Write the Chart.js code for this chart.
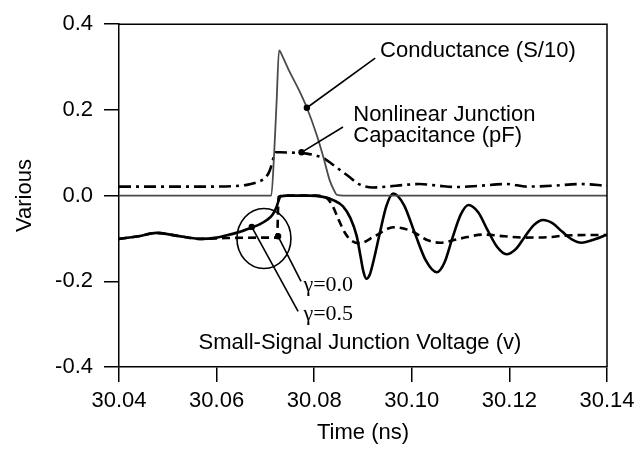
<!DOCTYPE html>
<html><head><meta charset="utf-8">
<script src="https://cdn.jsdelivr.net/npm/chart.js@4.4.0/dist/chart.umd.min.js"></script>
<style>html,body{margin:0;padding:0;background:#fff}</style>
</head><body>
<canvas id="c" width="642" height="449"></canvas>
<script>
// ---- data (time in ns, values "Various") ----
const condT = [30.040,30.0712,30.0718,30.0723,30.0728,30.0735,30.0750,30.0768,30.0785,30.0805,30.0819,30.0832,30.0840,30.0846,30.0860,30.1400];
const condV = [0.000, 0.000, 0.100, 0.220, 0.339, 0.325, 0.288, 0.248, 0.205, 0.142, 0.089, 0.035, 0.014, 0.002, 0.000, 0.000];

const capT = [30.040,30.050,30.058,30.063,30.0662,30.0685,30.0700,30.0708,30.0713,30.0717,30.0721,30.0730,30.0760,30.0785,30.0802,30.0818,30.0835,30.0855,30.0873,30.0887,30.0900,30.0920,30.0950,30.0985,30.1015,30.1055,30.1095,30.1140,30.1195,30.1236,30.1290,30.1345,30.1400];
const capV = [0.021,0.021,0.021,0.022,0.025,0.032,0.042,0.056,0.073,0.090,0.101,0.101,0.100,0.098,0.094,0.088,0.075,0.058,0.043,0.030,0.023,0.019,0.021,0.025,0.027,0.023,0.020,0.023,0.027,0.021,0.023,0.027,0.023];

// small-signal junction voltage, gamma = 0.5 (solid)
const v05T = [30.0400,30.0440,30.0477,30.0520,30.0566,30.0600,30.0627,30.0650,30.0668,30.0688,30.0703,30.0715,30.0723,30.0727,30.0731,30.0745,30.0790,30.0818,30.0840,30.0859,30.0874,30.0887,30.0895,30.0901,30.0907,30.0914,30.0921,30.0933,30.0948,30.0962,30.0984,30.1006,30.1029,30.1051,30.1067,30.1083,30.1100,30.1116,30.1136,30.1155,30.1175,30.1194,30.1213,30.1231,30.1250,30.1269,30.1289,30.1308,30.1328,30.1348,30.1375,30.1400];
const v05V = [-0.101,-0.095,-0.087,-0.094,-0.101,-0.098,-0.091,-0.084,-0.076,-0.067,-0.057,-0.044,-0.026,-0.012,-0.002,0.000,0.000,-0.003,-0.011,-0.025,-0.052,-0.094,-0.142,-0.178,-0.194,-0.184,-0.155,-0.095,-0.024,0.005,-0.022,-0.087,-0.152,-0.179,-0.156,-0.100,-0.045,-0.022,-0.039,-0.080,-0.120,-0.137,-0.125,-0.097,-0.069,-0.057,-0.065,-0.084,-0.102,-0.110,-0.102,-0.091];

// small-signal junction voltage, gamma = 0.0 (dashed)
const v00T = [30.0400,30.0440,30.0477,30.0520,30.0566,30.0620,30.0700,30.0724,30.0727,30.0740,30.0800,30.0825,30.0838,30.0850,30.0862,30.0875,30.0893,30.0925,30.0962,30.1000,30.1030,30.1058,30.1100,30.1147,30.1190,30.1229,30.1280,30.1317,30.1360,30.1400];
const v00V = [-0.101,-0.095,-0.087,-0.094,-0.101,-0.099,-0.098,-0.098,-0.003,0.000,0.000,-0.005,-0.025,-0.056,-0.085,-0.104,-0.111,-0.094,-0.074,-0.083,-0.103,-0.110,-0.100,-0.091,-0.095,-0.098,-0.097,-0.093,-0.092,-0.092];

const xTicks = [30.04,30.06,30.08,30.10,30.12,30.14];
const xTickLabels = ['30.04','30.06','30.08','30.10','30.12','30.14'];
const yTicks = [-0.4,-0.2,0.0,0.2,0.4];
const yTickLabels = ['-0.4','-0.2','0.0','0.2','0.4'];

// annotations in data coordinates [time, value]
const condLabel = {text:'Conductance (S/10)', at:[30.0935,0.337], from:[30.0925,0.321], to:[30.0785,0.205]};
const capLabel = {lines:['Nonlinear Junction','Capacitance (pF)'], at:[30.0880,0.188], line2:[30.0880,0.140], from:[30.0859,0.160], to:[30.0774,0.101]};
const circleAt = [30.0697,-0.100];
const g00 = {text:'\u03b3=0.0', at:[30.0778,-0.208], from:[30.0726,-0.095], to:[30.0773,-0.200]};
const g05 = {text:'\u03b3=0.5', at:[30.0778,-0.277], from:[30.0672,-0.073], to:[30.0767,-0.270]};
const vLabel = {text:'Small-Signal Junction Voltage (v)', at:[30.0563,-0.343]};

const SANS = '"Liberation Sans", Arial, Helvetica, sans-serif';
const SERIF = '"Liberation Serif", "Times New Roman", serif';
const FS = 22;

const xy = (ts, vs) => ts.map((t, i) => ({x: t, y: vs[i]}));

const annot = {
  id: 'annot',
  afterDraw(chart) {
    const {ctx, scales: {x, y}, chartArea: a} = chart;
    const X = v => x.getPixelForValue(v), Y = v => y.getPixelForValue(v);
    ctx.save();
    ctx.strokeStyle = '#000'; ctx.fillStyle = '#000';
    ctx.lineWidth = 1.5;
    // top and right frame
    ctx.beginPath();
    ctx.moveTo(a.left, a.top); ctx.lineTo(a.right, a.top); ctx.lineTo(a.right, a.bottom);
    ctx.stroke();
    const seg = (p, q, dot) => {
      ctx.beginPath(); ctx.moveTo(X(p[0]), Y(p[1])); ctx.lineTo(X(q[0]), Y(q[1])); ctx.stroke();
      if (dot) { ctx.beginPath(); ctx.arc(X(q[0]), Y(q[1]), 3.2, 0, Math.PI * 2); ctx.fill(); }
    };
    const dotAt = (p) => { ctx.beginPath(); ctx.arc(X(p[0]), Y(p[1]), 3.2, 0, Math.PI * 2); ctx.fill(); };
    ctx.lineWidth = 1.6;
    seg(condLabel.from, condLabel.to, true);
    seg(capLabel.from, capLabel.to, true);
    seg(g00.from, g00.to, false); dotAt(g00.from);
    seg(g05.from, g05.to, false); dotAt(g05.from);
    ctx.beginPath();
    ctx.ellipse(X(circleAt[0]), Y(circleAt[1]), 27, 30, 0, 0, Math.PI * 2);
    ctx.stroke();
    ctx.textAlign = 'left'; ctx.textBaseline = 'middle';
    ctx.font = FS + 'px ' + SANS;
    ctx.fillText(condLabel.text, X(condLabel.at[0]), Y(condLabel.at[1]));
    ctx.fillText(capLabel.lines[0], X(capLabel.at[0]), Y(capLabel.at[1]));
    ctx.fillText(capLabel.lines[1], X(capLabel.line2[0]), Y(capLabel.line2[1]));
    ctx.fillText(vLabel.text, X(vLabel.at[0]), Y(vLabel.at[1]));
    ctx.font = '22px ' + SERIF;
    ctx.fillText(g00.text, X(g00.at[0]), Y(g00.at[1]));
    ctx.fillText(g05.text, X(g05.at[0]), Y(g05.at[1]));
    ctx.restore();
  }
};

new Chart(document.getElementById('c'), {
  type: 'line',
  data: {datasets: [
    {data: xy(condT, condV), borderColor: '#4a4a4a', borderWidth: 1.8, pointRadius: 0, cubicInterpolationMode: 'monotone'},
    {data: xy(capT, capV), borderColor: '#000', borderWidth: 2.6, borderDash: [12, 5, 3, 5], pointRadius: 0, cubicInterpolationMode: 'monotone'},
    {data: xy(v00T, v00V), borderColor: '#000', borderWidth: 2.6, borderDash: [8, 5], pointRadius: 0, cubicInterpolationMode: 'monotone'},
    {data: xy(v05T, v05V), borderColor: '#000', borderWidth: 2.6, pointRadius: 0, cubicInterpolationMode: 'monotone'}
  ]},
  options: {
    responsive: false, animation: false, events: [], devicePixelRatio: 1,
    layout: {padding: {top: 17, right: 35, left: 0, bottom: 0}},
    plugins: {legend: {display: false}, tooltip: {enabled: false}},
    scales: {
      x: {
        type: 'linear', min: 30.04, max: 30.14,
        afterBuildTicks: s => { s.ticks = xTicks.map(v => ({value: v})); },
        afterFit: s => { s.height = 82; },
        ticks: {callback: (v, i) => xTickLabels[i], font: {family: SANS, size: FS}, color: '#000', padding: 6, maxRotation: 0, autoSkip: false},
        grid: {drawOnChartArea: false, tickLength: 15, color: '#000', lineWidth: 1.5},
        border: {color: '#000', width: 1.5},
        title: {display: true, text: 'Time (ns)', font: {family: SANS, size: FS}, color: '#000', padding: {top: 0, bottom: 3}}
      },
      y: {
        type: 'linear', min: -0.4, max: 0.4,
        afterBuildTicks: s => { s.ticks = yTicks.map(v => ({value: v})); },
        afterFit: s => { s.width = 119; },
        ticks: {callback: (v, i) => yTickLabels[i], font: {family: SANS, size: FS}, color: '#000', padding: 11, autoSkip: false},
        grid: {drawOnChartArea: false, tickLength: 15, color: '#000', lineWidth: 1.5},
        border: {color: '#000', width: 1.5},
        title: {display: true, text: 'Various', font: {family: SANS, size: FS}, color: '#000', padding: {top: 12, bottom: 0}}
      }
    }
  },
  plugins: [annot]
});
</script>
</body></html>
